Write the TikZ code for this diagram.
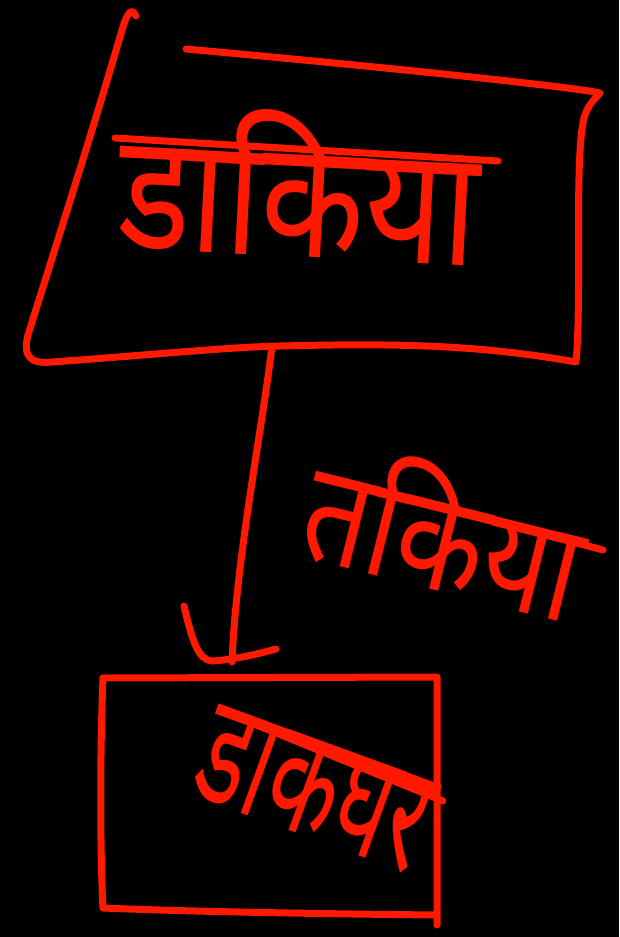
\documentclass[tikz,border=0pt]{standalone}
\usepackage{fontspec}
\usepackage{graphicx}
\newfontfamily\dev[Script=Devanagari]{Noto Sans}
\definecolor{penred}{RGB}{255,25,0}
\begin{document}
\begin{tikzpicture}[x=1pt,y=-1pt,
  pen/.style={draw=penred, line width=7pt, line cap=round, line join=round},
  word/.style={text=penred, inner sep=0pt, font=\dev}]
\useasboundingbox (0,0) rectangle (619,937);
\fill[black] (0,0) rectangle (619,937);

% top box (hand drawn)
\draw[pen] (136,16) .. controls (132,8) and (128,10) .. (122,30)
  .. controls (90,140) and (45,280) .. (28,335)
  .. controls (22,358) and (32,364) .. (52,362)
  .. controls (150,355) and (230,347) .. (280,346)
  .. controls (400,343) and (480,345) .. (576,362)
  .. controls (582,300) and (574,160) .. (584,118)
  .. controls (588,104) and (596,98) .. (600,93)
  .. controls (590,90) and (470,75) .. (186,49);
\coordinate (topbox) at (272,346);

% bottom box
\draw[pen] (103,678) -- (437,677) -- (437,925);
\draw[pen] (103,678) .. controls (100,750) and (100,850) .. (103,908)
  .. controls (200,912) and (340,914) .. (436,915);
\coordinate (botbox) at (232,662);

% connector with hand drawn head
\draw[pen] (topbox) .. controls (262,430) and (236,560) .. (botbox);
\draw[pen] (184,606) .. controls (192,640) and (198,660) .. (212,661)
  .. controls (230,660) and (255,655) .. (276,649);

% texts
\draw[pen] (115,138) -- (498,161);
\node[word, rotate=-3] (top) at (300,184) {\resizebox{360pt}{146pt}{डाकिया}};

\draw[pen] (334,479) -- (603,550);
\node[word, rotate=-14] (mid) at (446,530) {\resizebox{280pt}{125pt}{तकिया}};

\draw[pen] (237,717) -- (443,801);
\node[word, rotate=-20] (bot) at (314,790) {\resizebox{235pt}{95pt}{डाकघर}};
\end{tikzpicture}
\end{document}
